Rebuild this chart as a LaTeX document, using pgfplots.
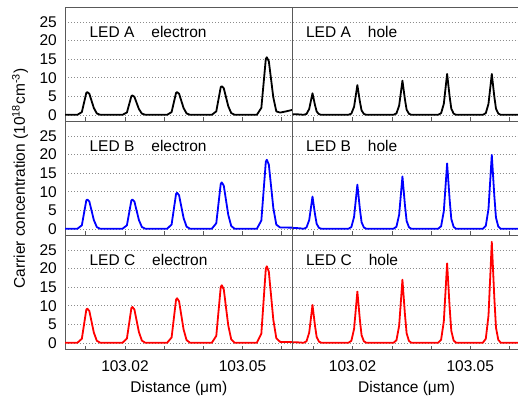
\documentclass[border=0pt]{standalone}
\usepackage{pgfplots}
\pgfplotsset{compat=1.18}
\usepackage{fontspec}
\setmainfont{Liberation Sans}

% electron and hole concentration profiles across the five quantum wells
\pgfplotstableread{
x y
103.0040 0
103.00785 0
103.0090 0.73
103.01014 5.92
103.0104 6.1
103.01091 5.67
103.01206 1.83
103.01282 0.37
103.01372 0
103.01935 0
103.0205 0.62
103.02164 5.04
103.0219 5.2
103.02241 4.84
103.02356 1.56
103.02432 0.31
103.02522 0
103.03075 0
103.0319 0.73
103.03304 5.92
103.0333 6.1
103.03381 5.67
103.03496 1.83
103.03572 0.37
103.03662 0
103.04215 0
103.0433 0.92
103.04444 7.47
103.0447 7.7
103.04521 7.16
103.04636 2.31
103.04712 0.46
103.04802 0
103.05365 0
103.0548 1.86
103.05594 15.04
103.0562 15.5
103.05671 14.42
103.05786 4.65
103.05862 0.93
103.0596 0.6
103.0610 0.9
103.0628 1.35
103.0640 1.5
}\ledAe

\pgfplotstableread{
x y
103.0040 0
103.00785 0
103.0090 0.95
103.01014 7.66
103.0104 7.9
103.01091 7.35
103.01206 2.37
103.01282 0.47
103.01372 0
103.01935 0
103.0205 0.95
103.02164 7.66
103.0219 7.9
103.02241 7.35
103.02356 2.37
103.02432 0.47
103.02522 0
103.03075 0
103.0319 1.16
103.03304 9.41
103.0333 9.7
103.03381 9.02
103.03496 2.91
103.03572 0.58
103.03662 0
103.04215 0
103.0433 1.5
103.04444 12.13
103.0447 12.5
103.04521 11.63
103.04636 3.75
103.04712 0.75
103.04802 0
103.05365 0
103.0548 2.23
103.05594 18.04
103.0562 18.6
103.05671 17.3
103.05786 5.58
103.05862 1.12
103.0596 0.35
103.0640 0.3
}\ledBe

\pgfplotstableread{
x y
103.0040 0
103.00785 0
103.0090 1.1
103.01014 8.92
103.0104 9.2
103.01091 8.56
103.01206 2.76
103.01282 0.55
103.01372 0
103.01935 0
103.0205 1.16
103.02164 9.36
103.0219 9.65
103.02241 8.97
103.02356 2.9
103.02432 0.58
103.02522 0
103.03075 0
103.0319 1.44
103.03304 11.64
103.0333 12.0
103.03381 11.16
103.03496 3.6
103.03572 0.72
103.03662 0
103.04215 0
103.0433 1.86
103.04444 15.04
103.0447 15.5
103.04521 14.42
103.04636 4.65
103.04712 0.93
103.04802 0
103.05365 0
103.0548 2.47
103.05594 19.98
103.0562 20.6
103.05671 19.16
103.05786 6.18
103.05862 1.24
103.0596 0.25
103.0640 0.2
}\ledCe

\pgfplotstableread{
x y
103.0040 0.2
103.0065 0.1
103.00745 0
103.00822 0.23
103.00891 1.57
103.00975 5.8
103.01039 2.61
103.01082 0.87
103.01141 0.17
103.01205 0
103.0189 0
103.01967 0.32
103.02036 2.16
103.0212 8.0
103.02184 3.6
103.02227 1.2
103.02286 0.24
103.0235 0
103.0304 0
103.03117 0.37
103.03186 2.48
103.0327 9.2
103.03334 4.14
103.03377 1.38
103.03436 0.28
103.035 0
103.0418 0
103.04257 0.44
103.04326 2.97
103.0441 11.0
103.04474 4.95
103.04517 1.65
103.04576 0.33
103.0464 0
103.0532 0
103.05397 0.44
103.05466 2.97
103.0555 11.0
103.05614 4.95
103.05657 1.65
103.05716 0.33
103.0578 0
103.0640 0
}\ledAh

\pgfplotstableread{
x y
103.0040 0.3
103.0065 0.15
103.00745 0
103.00822 0.35
103.00891 2.35
103.00975 8.7
103.01039 3.92
103.01082 1.31
103.01141 0.26
103.01205 0
103.0189 0
103.01967 0.48
103.02036 3.21
103.0212 11.9
103.02184 5.36
103.02227 1.79
103.02286 0.36
103.0235 0
103.0304 0
103.03117 0.56
103.03186 3.81
103.0327 14.1
103.03334 6.35
103.03377 2.12
103.03436 0.42
103.035 0
103.0418 0
103.04257 0.7
103.04326 4.75
103.0441 17.6
103.04474 7.92
103.04517 2.64
103.04576 0.53
103.0464 0
103.0532 0
103.05397 0.8
103.05466 5.37
103.0555 19.9
103.05614 8.96
103.05657 2.99
103.05716 0.6
103.0578 0
103.0640 0
}\ledBh

\pgfplotstableread{
x y
103.0040 0.2
103.0065 0.1
103.00745 0
103.00822 0.41
103.00891 2.75
103.00975 10.2
103.01039 4.59
103.01082 1.53
103.01141 0.31
103.01205 0
103.0189 0
103.01967 0.55
103.02036 3.73
103.0212 13.8
103.02184 6.21
103.02227 2.07
103.02286 0.41
103.0235 0
103.0304 0
103.03117 0.68
103.03186 4.59
103.0327 17.0
103.03334 7.65
103.03377 2.55
103.03436 0.51
103.035 0
103.0418 0
103.04257 0.86
103.04326 5.78
103.0441 21.4
103.04474 9.63
103.04517 3.21
103.04576 0.64
103.0464 0
103.0532 0
103.05397 1.09
103.05466 7.34
103.0555 27.2
103.05614 12.24
103.05657 4.08
103.05716 0.82
103.0578 0
103.0640 0
}\ledCh

\tikzset{tag/.style={anchor=base west, inner sep=0pt}}

\begin{document}
\fontsize{15.5}{18}\selectfont
\begin{tikzpicture}[font=\fontsize{15.5}{18}\selectfont]
\pgfplotsset{
  panel/.style={
    scale only axis, width=227.7pt, height=114pt, anchor=south west,
    xmin=103.0047, xmax=103.0628, ymin=-1.8, ymax=28.9,
    xtick={103.01,103.02,103.03,103.04,103.05,103.06},
    xticklabels={},
    ytick={0,5,10,15,20,25},
    yticklabels={},
    ymajorgrids,
    grid style={black!45, line width=0.6pt, dash pattern=on 0.7pt off 2.3pt},
    axis line style={black!65, line width=0.7pt},
    tick align=inside, xtick pos=left,
    major tick length=4pt,
    xtick style={black!65, line width=0.6pt},
    ytick style={draw=none},
    yticklabel style={anchor=east, inner sep=0pt, xshift=-8pt},
    xticklabel style={anchor=center, inner sep=0pt, yshift=-16.7pt},
    xlabel style={at={(axis description cs:0.5,0)}, anchor=center, yshift=-39pt},
    clip=true,
  },
  leftpanel/.style={panel, yticklabels={0,5,10,15,20,25}},
  bottompanel/.style={xticklabels={,103.02,,,103.05,}, xlabel={Distance (μm)}},
  curve/.style={line width=1.8pt, line join=round},
}

% LED A
\begin{axis}[leftpanel, at={(65pt,279.5pt)}]
  \addplot[curve, black] table {\ledAe};
  \node[tag] at (rel axis cs:0.107,0.733) {LED A\hspace{1.1em}electron};
\end{axis}
\begin{axis}[panel, at={(292.7pt,279.5pt)}]
  \addplot[curve, black] table {\ledAh};
  \node[tag] at (rel axis cs:0.058,0.733) {LED A\hspace{1.1em}hole};
\end{axis}

% LED B
\begin{axis}[leftpanel, at={(65pt,165.5pt)}]
  \addplot[curve, blue] table {\ledBe};
  \node[tag] at (rel axis cs:0.107,0.733) {LED B\hspace{1.1em}electron};
\end{axis}
\begin{axis}[panel, at={(292.7pt,165.5pt)}]
  \addplot[curve, blue] table {\ledBh};
  \node[tag] at (rel axis cs:0.058,0.733) {LED B\hspace{1.1em}hole};
\end{axis}

% LED C
\begin{axis}[leftpanel, bottompanel, at={(65pt,51.5pt)}]
  \addplot[curve, red] table {\ledCe};
  \node[tag] at (rel axis cs:0.107,0.733) {LED C\hspace{1.1em}electron};
\end{axis}
\begin{axis}[panel, bottompanel, at={(292.7pt,51.5pt)}]
  \addplot[curve, red] table {\ledCh};
  \node[tag] at (rel axis cs:0.058,0.733) {LED C\hspace{1.1em}hole};
\end{axis}

\node[rotate=90] at (20pt,222.5pt) {Carrier concentration (10\textsuperscript{18}cm\textsuperscript{-3})};

\pgfresetboundingbox
\path[use as bounding box] (0pt,0pt) rectangle (518pt,401pt);
\end{tikzpicture}
\end{document}
